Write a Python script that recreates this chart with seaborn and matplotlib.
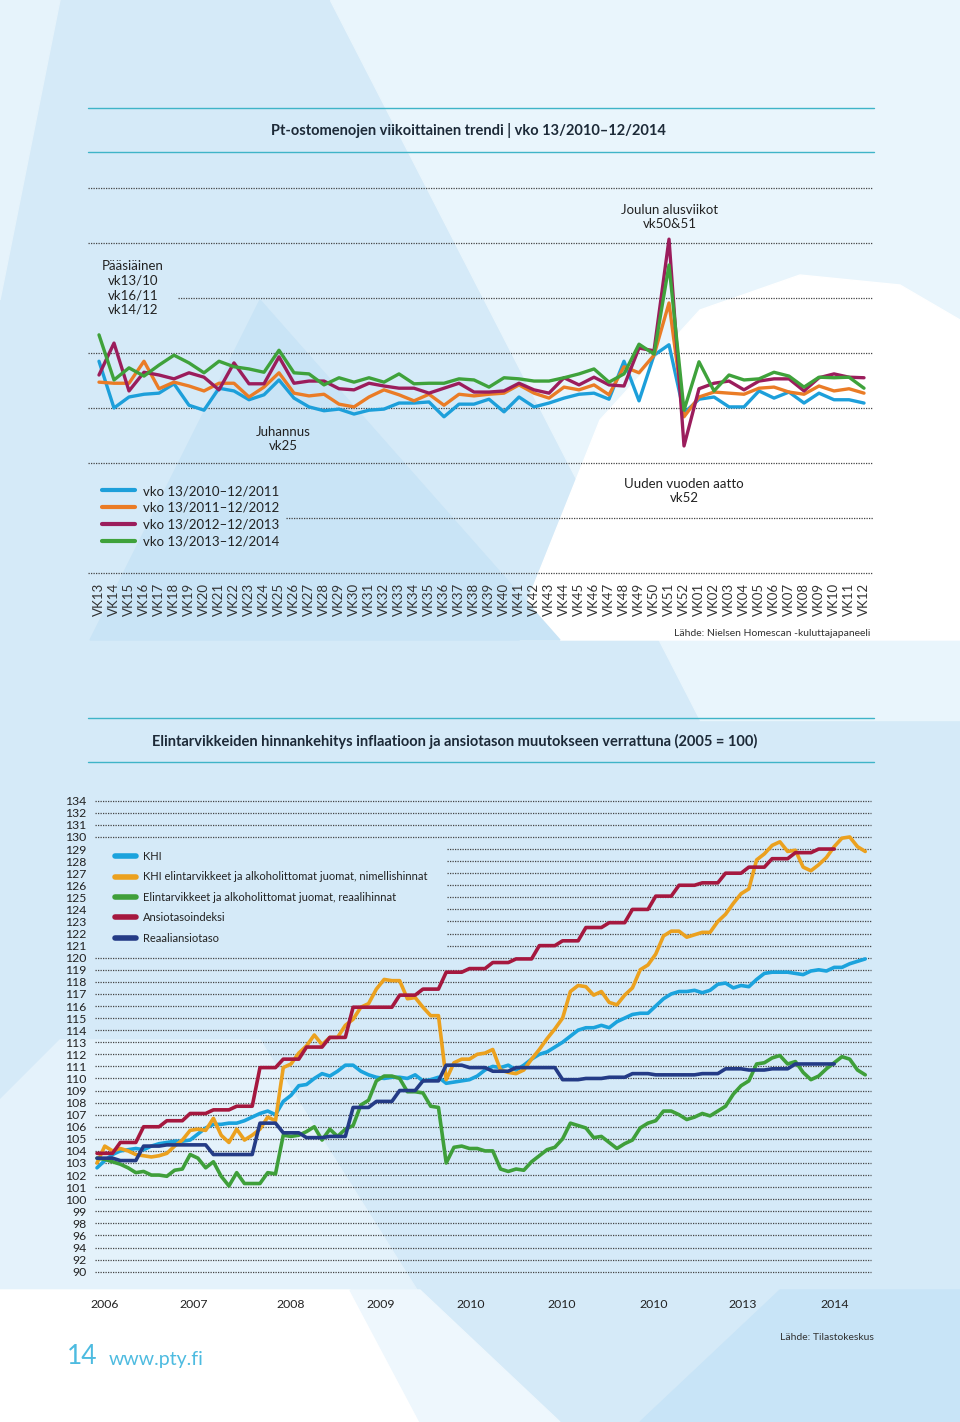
import matplotlib
matplotlib.use("Agg")
import pandas as pd
import matplotlib.pyplot as plt
import seaborn as sns
from matplotlib.patches import Polygon
from matplotlib.lines import Line2D

# ---------------- top chart: weekly grocery spend, four 52-week periods
weeks = [f"VK{n:02d}" for n in list(range(13, 53)) + list(range(1, 13))]

wk_2010 = [108.5, 100.0, 102.0, 102.5, 102.7, 104.4, 100.5, 99.6, 103.6, 103.1, 101.5, 102.4, 105.1,
           101.8, 100.2, 99.5, 99.8, 98.9, 99.6, 99.8, 100.9, 100.9, 101.1, 98.4, 100.7, 100.7,
           101.6, 99.3, 102.0, 100.2, 100.9, 101.8, 102.5, 102.7, 101.6, 108.5, 101.3, 109.6, 111.5,
           99.1, 101.6, 102.0, 100.2, 100.2, 103.1, 101.8, 102.9, 100.9, 102.7, 101.5, 101.5, 100.9]
wk_2011 = [104.7, 104.5, 104.5, 108.5, 103.5, 104.7, 104.0, 103.1, 104.5, 104.5, 102.0, 103.8, 106.4,
           102.7, 102.2, 102.5, 100.7, 100.2, 102.0, 103.3, 102.4, 101.3, 102.5, 100.5, 102.5, 102.2,
           102.5, 102.7, 104.2, 102.7, 101.8, 103.8, 103.3, 104.2, 102.4, 107.5, 106.4, 109.6, 119.1,
           98.4, 102.0, 102.9, 102.7, 102.5, 103.6, 103.8, 102.9, 102.5, 104.0, 103.1, 103.5, 102.7]
wk_2012 = [106.0, 111.8, 103.1, 106.5, 106.0, 105.3, 106.4, 105.6, 103.3, 108.2, 104.4, 104.4, 109.3,
           104.5, 104.9, 104.9, 103.5, 103.3, 104.5, 104.0, 103.6, 103.6, 102.7, 103.6, 104.5, 102.9,
           102.9, 103.1, 104.5, 103.3, 102.7, 105.5, 104.2, 105.6, 104.2, 104.0, 110.9, 110.4, 130.7,
           93.1, 103.5, 104.5, 104.9, 103.3, 104.9, 105.3, 105.3, 103.1, 105.5, 106.2, 105.6, 105.5]
wk_2013 = [113.3, 105.1, 107.3, 105.8, 107.8, 109.6, 108.2, 106.4, 108.5, 107.5, 107.1, 106.5, 110.5,
           106.4, 106.2, 104.2, 105.5, 104.7, 105.5, 104.7, 106.2, 104.4, 104.5, 104.5, 105.3, 105.1,
           103.8, 105.5, 105.3, 104.9, 104.9, 105.5, 106.2, 107.1, 104.7, 106.2, 111.6, 109.8, 126.0,
           99.6, 108.4, 103.1, 106.0, 105.1, 105.3, 106.5, 105.8, 103.8, 105.6, 105.5, 105.6, 103.6]

top_labels = ["vko 13/2010–12/2011", "vko 13/2011–12/2012",
              "vko 13/2012–12/2013", "vko 13/2013–12/2014"]
top_colors = ["#1d9fda", "#ea7c26", "#9b1d5c", "#3fa23b"]

# ---------------- bottom chart: price and earnings indices (2005 = 100), monthly from 2006
khi = [102.6, 103.2, 103.7, 104.0, 104.1, 104.2, 104.1, 104.4, 104.6, 104.7,
       104.8, 104.8, 104.9, 105.4, 105.9, 106.2, 106.2, 106.3, 106.3, 106.5,
       106.8, 107.1, 107.3, 107.0, 108.1, 108.6, 109.4, 109.5, 110.0, 110.4,
       110.2, 110.6, 111.1, 111.1, 110.6, 110.3, 110.1, 110.0, 110.1, 110.1,
       110.0, 110.3, 109.8, 109.9, 110.1, 109.6, 109.7, 109.8, 109.9, 110.2,
       110.7, 111.0, 110.9, 111.1, 110.7, 111.1, 111.6, 112.0, 112.2, 112.6,
       113.0, 113.5, 114.0, 114.2, 114.2, 114.4, 114.2, 114.7, 115.0, 115.3,
       115.4, 115.4, 116.0, 116.6, 117.0, 117.2, 117.2, 117.3, 117.1, 117.3,
       117.8, 117.9, 117.5, 117.7, 117.6, 118.2, 118.7, 118.8, 118.8, 118.8,
       118.7, 118.6, 118.9, 119.0, 118.9, 119.2, 119.2, 119.5, 119.7, 119.9]
food_nominal = [103.0, 104.4, 104.0, 104.2, 104.0, 103.7, 103.6, 103.5, 103.6, 103.8,
                104.4, 104.9, 105.7, 105.8, 105.7, 106.7, 105.3, 104.7, 105.8, 104.9,
                105.3, 105.8, 106.8, 106.5, 110.9, 111.2, 112.1, 112.7, 113.6, 112.8,
                113.4, 113.4, 114.4, 114.9, 115.9, 116.2, 117.4, 118.2, 118.1, 118.1,
                116.6, 116.7, 115.9, 115.2, 115.2, 109.9, 111.3, 111.6, 111.6, 112.0,
                112.1, 112.4, 110.7, 110.5, 110.4, 110.7, 111.6, 112.4, 113.3, 114.1,
                115.0, 117.2, 117.7, 117.6, 116.9, 117.2, 116.3, 116.1, 116.9, 117.5,
                119.0, 119.4, 120.3, 121.8, 122.2, 122.2, 121.7, 121.9, 122.1, 122.1,
                123.0, 123.6, 124.5, 125.3, 125.7, 128.1, 128.6, 129.3, 129.6, 128.8,
                128.9, 127.5, 127.2, 127.7, 128.3, 129.2, 129.9, 130.0, 129.2, 128.8]
food_real = [103.4, 103.3, 103.1, 102.9, 102.6, 102.2, 102.3, 102.0, 102.0, 101.9,
             102.4, 102.5, 103.7, 103.4, 102.6, 103.1, 101.9, 101.1, 102.2, 101.3,
             101.3, 101.3, 102.2, 102.1, 105.3, 105.2, 105.3, 105.6, 106.0, 104.9,
             105.8, 105.2, 105.8, 106.1, 107.8, 108.2, 109.8, 110.2, 110.2, 110.0,
             108.9, 108.9, 108.8, 107.7, 107.6, 103.0, 104.3, 104.4, 104.2, 104.2,
             104.0, 104.0, 102.5, 102.3, 102.5, 102.4, 103.1, 103.6, 104.1, 104.3,
             105.0, 106.3, 106.1, 105.9, 105.1, 105.2, 104.7, 104.2, 104.6, 104.9,
             105.9, 106.3, 106.5, 107.3, 107.3, 107.0, 106.6, 106.8, 107.1, 106.9,
             107.3, 107.7, 108.7, 109.4, 109.8, 111.2, 111.3, 111.7, 111.9, 111.2,
             111.4, 110.5, 109.9, 110.2, 110.8, 111.3, 111.8, 111.6, 110.7, 110.3]
# quarterly earnings indices
earnings = [103.8, 104.7, 106.0, 106.5, 107.1, 107.4, 107.7, 110.9, 111.6, 112.6, 113.4,
            115.9, 115.9, 116.9, 117.4, 118.8, 119.1, 119.6, 119.9, 121.0, 121.4, 122.5,
            122.9, 124.0, 125.1, 126.0, 126.2, 127.0, 127.5, 128.2, 128.7, 129.0]
real_earnings = [103.4, 103.2, 104.4, 104.5, 104.5, 103.7, 103.7, 106.3, 105.5, 105.1, 105.2,
                 107.6, 108.1, 109.0, 109.8, 111.1, 110.9, 110.6, 110.9, 110.9, 109.9, 110.0,
                 110.1, 110.4, 110.3, 110.3, 110.4, 110.8, 110.7, 110.8, 111.2, 111.2]

y_labels = ["134", "132", "131", "130", "129", "128", "127", "126", "125", "124", "123",
            "122", "121", "120", "119", "118", "117", "116", "115", "114", "113", "112",
            "111", "110", "109", "108", "107", "106", "105", "104", "103", "102", "101",
            "100", "99", "98", "96", "94", "92", "90"]
year_labels = ["2006", "2007", "2008", "2009", "2010", "2010", "2010", "2013", "2014"]
year_pos = [1.0, 12.5, 24.9, 36.6, 48.2, 59.9, 71.7, 83.2, 95.1]

bottom_labels = ["KHI", "KHI elintarvikkeet ja alkoholittomat juomat, nimellishinnat",
                 "Elintarvikkeet ja alkoholittomat juomat, reaalihinnat",
                 "Ansiotasoindeksi", "Reaaliansiotaso"]
bottom_colors = ["#1ba3dd", "#eba11f", "#3f9f3a", "#a5183f", "#243b86"]

# ---------------- data frames
top_df = pd.concat([pd.DataFrame({"week": range(len(v)), "value": v, "series": lab})
                    for v, lab in zip([wk_2010, wk_2011, wk_2012, wk_2013], top_labels)])

frames = []
for v, lab in zip([khi, food_nominal, food_real], bottom_labels[:3]):
    frames.append(pd.DataFrame({"month": range(len(v)), "value": v, "series": lab}))
for v, lab in zip([earnings, real_earnings], bottom_labels[3:]):
    xs, ys = [], []
    for q, val in enumerate(v):
        xs += [3 * q, 3 * q + 2]
        ys += [val, val]
    frames.append(pd.DataFrame({"month": xs, "value": ys, "series": lab}))
bot_df = pd.concat(frames)

# ---------------- figure
sns.set_theme(style="white")
plt.rcParams["font.family"] = ["Lato", "DejaVu Sans"]
W, H = 960, 1422
fig = plt.figure(figsize=(W / 100, H / 100), dpi=100)


def fx(px):
    return px / W


def fy(py):
    return 1 - py / H


# background shapes
bg = fig.add_axes([0, 0, 1, 1], zorder=-5)
bg.set_xlim(0, W)
bg.set_ylim(H, 0)
bg.axis("off")
bg.add_patch(Polygon([(0, 0), (W, 0), (W, H), (0, H)], color="#d5eaf8"))
bg.add_patch(Polygon([(330, 0), (W, 0), (W, 720), (700, 720)], color="#e9f5fc"))
bg.add_patch(Polygon([(0, 0), (60, 0), (0, 300)], color="#e6f3fb"))
bg.add_patch(Polygon([(520, 620), (600, 420), (700, 310), (800, 275), (900, 285), (W, 320),
                      (W, 640), (520, 640)], color="#ffffff"))
bg.add_patch(Polygon([(90, 640), (260, 300), (560, 640)], color="#c9e4f6"))
bg.add_patch(Polygon([(60, 1040), (260, 1040), (500, 1422), (0, 1422), (0, 1100)], color="#e4f2fb"))
bg.add_patch(Polygon([(0, 1290), (350, 1290), (420, 1422), (0, 1422)], color="#ffffff"))
bg.add_patch(Polygon([(350, 1290), (420, 1290), (560, 1422), (420, 1422)], color="#eef7fd"))
bg.add_patch(Polygon([(640, 1422), (780, 1290), (W, 1290), (W, 1422)], color="#c8e4f7"))

grid_kw = dict(color="#444444", lw=0.9, linestyles=(0, (1, 1)), zorder=0)
text_c = "#222222"
rule_c = "#3fb4c8"

# ---------------- top chart
ax1 = fig.add_axes([fx(88), fy(578.5), fx(787), 396 / H])
ax1.patch.set_alpha(0)
for val in range(70, 150, 10):
    start = {120: 5.27, 80: 12.5}.get(val, -0.73)
    ax1.hlines(val, start, 51.6, **grid_kw)
sns.lineplot(data=top_df, x="week", y="value", hue="series", hue_order=top_labels,
             palette=top_colors, linewidth=2.4, ax=ax1, zorder=3)
ax1.set_xlim(-0.733, 51.733)
ax1.set_ylim(69, 141)
ax1.set_xticks(range(len(weeks)))
ax1.set_xticklabels(weeks, rotation=90, fontsize=9.5, color="#333333")
ax1.set_yticks([])
ax1.set_xlabel("")
ax1.set_ylabel("")
ax1.tick_params(axis="x", length=0, pad=3)
sns.despine(ax=ax1, left=True, bottom=True)
sns.move_legend(ax1, loc="upper left", bbox_to_anchor=(fx(102), fy(485)),
                bbox_transform=fig.transFigure, frameon=False, title=None,
                fontsize=9.5, handlelength=2.5, handletextpad=0.6, labelspacing=0.36,
                borderpad=0, borderaxespad=0)
for line in ax1.get_legend().get_lines():
    line.set_linewidth(3)
for t in ax1.get_legend().get_texts():
    t.set_color(text_c)

fig.text(fx(468), fy(130), "Pt-ostomenojen viikoittainen trendi | vko 13/2010–12/2014",
         ha="center", va="center", fontsize=10.5, fontweight="bold", color="#1d2a38")
for yy in (108, 152):
    fig.add_artist(Line2D([fx(88), fx(874)], [fy(yy), fy(yy)], transform=fig.transFigure,
                          color=rule_c, lw=1))
notes = [(133, 288, "Pääsiäinen\nvk13/10\nvk16/11\nvk14/12"),
         (670, 217, "Joulun alusviikot\nvk50&51"),
         (283, 439, "Juhannus\nvk25"),
         (684, 491, "Uuden vuoden aatto\nvk52")]
for x, y, s in notes:
    fig.text(fx(x), fy(y), s, ha="center", va="center", fontsize=9.5, color=text_c,
             linespacing=1.25)
fig.text(fx(870), fy(634), "Lähde: Nielsen Homescan -kuluttajapaneeli", ha="right",
         va="center", fontsize=7.5, color="#333333")

# ---------------- bottom chart
ax2 = fig.add_axes([fx(95), fy(1277.7), fx(778), 483 / H])
ax2.patch.set_alpha(0)
y_pos = list(range(133, 93, -1))
for p in y_pos:
    start = 45.1 if 121 <= p <= 129 else -0.26
    ax2.hlines(p, start, 99.8, **grid_kw)
sns.lineplot(data=bot_df, x="month", y="value", hue="series", hue_order=bottom_labels,
             palette=bottom_colors, linewidth=2.6, ax=ax2, zorder=3)
ax2.set_xlim(-0.26, 100)
ax2.set_ylim(93.5, 133.5)
ax2.set_yticks(y_pos)
ax2.set_yticklabels(y_labels, fontsize=8.8, color=text_c)
ax2.set_xticks(year_pos)
ax2.set_xticklabels(year_labels, fontsize=8.8, color=text_c)
ax2.set_xlabel("")
ax2.set_ylabel("")
ax2.tick_params(axis="y", length=0, pad=6)
ax2.tick_params(axis="x", length=0, pad=15)
sns.despine(ax=ax2, left=True, bottom=True)
sns.move_legend(ax2, loc="upper left", bbox_to_anchor=(fx(115), fy(851)),
                bbox_transform=fig.transFigure, frameon=False, title=None,
                fontsize=8, handlelength=1.9, handletextpad=0.6, labelspacing=0.85,
                borderpad=0, borderaxespad=0)
for line in ax2.get_legend().get_lines():
    line.set_linewidth(4)
for t in ax2.get_legend().get_texts():
    t.set_color(text_c)

fig.text(fx(455), fy(741),
         "Elintarvikkeiden hinnankehitys inflaatioon ja ansiotason muutokseen verrattuna (2005 = 100)",
         ha="center", va="center", fontsize=10.5, fontweight="bold", color="#1d2a38")
for yy in (718, 762):
    fig.add_artist(Line2D([fx(88), fx(874)], [fy(yy), fy(yy)], transform=fig.transFigure,
                          color=rule_c, lw=1))
fig.text(fx(874), fy(1338), "Lähde: Tilastokeskus", ha="right", va="center",
         fontsize=7.5, color="#333333")
fig.text(fx(67), fy(1357), "14", ha="left", va="center", fontsize=19,
         color="#4dbbe0")
fig.text(fx(109), fy(1359), "www.pty.fi", ha="left", va="center", fontsize=14,
         color="#4dbbe0")

fig.savefig("out.png", dpi=100)
